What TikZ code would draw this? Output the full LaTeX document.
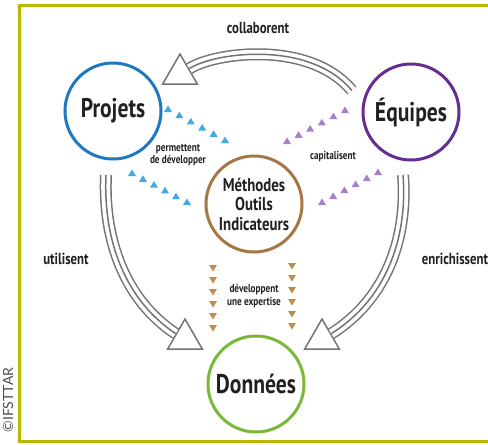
\documentclass[tikz,border=0pt]{standalone}
\usepackage{fontspec}
\setmainfont{PT Sans}[FakeStretch = 0.8]
\newfontfamily\creditfont{Lato}
\usetikzlibrary{calc, shapes.geometric}

\definecolor{projblue}{RGB}{31,120,193}
\definecolor{equippurple}{RGB}{102,45,145}
\definecolor{methbrown}{RGB}{166,118,68}
\definecolor{donngreen}{RGB}{122,184,56}
\definecolor{tipblue}{RGB}{64,170,225}
\definecolor{tippurple}{RGB}{165,130,200}
\definecolor{tipbrown}{RGB}{192,140,78}
\definecolor{framecol}{RGB}{185,183,0}
\definecolor{linegray}{RGB}{115,115,115}
\definecolor{inkgray}{RGB}{35,31,32}

\begin{document}
\begin{tikzpicture}[x = 1pt, y = -1pt,
	bubble/.style = {circle, line width = 3pt, minimum size = 96pt, inner sep = 0pt,
		text = inkgray, font = \fontsize{27}{30}\selectfont\bfseries},
	verb/.style = {text = inkgray, font = \fontsize{16}{18}\selectfont\bfseries},
	smallverb/.style = {text = inkgray, align = center, inner sep = 0pt,
		font = \fontsize{11.5}{12.5}\selectfont\bfseries},
	opentri/.style = {regular polygon, regular polygon sides = 3, minimum size = 40pt,
		inner sep = 0pt, draw = linegray, line width = 1.5pt},
	triple/.style = {draw = linegray, line width = 12pt,
		postaction = {draw = white, line width = 9pt},
		postaction = {draw = linegray, line width = 1.5pt}},
	uptri/.pic = {\fill (0, -3.5) -- (4, 3) -- (-4, 3) -- cycle;},
	downtri/.pic = {\fill (0, 3.5) -- (4, -3) -- (-4, -3) -- cycle;}]

	\useasboundingbox (0, 0) rectangle (488, 445);

	% Frame and credit

	\draw [framecol, line width = 3pt] (19, 5) rectangle (500, 441);
	\node [rotate = 90, text = inkgray!80, font = \creditfont\fontsize{14}{14}\selectfont]
		(credit) at (8, 400) {©IFSTTAR};

	% Circles

	\node [bubble, draw = projblue] (projets) at (113, 111) {Projets};
	\node [bubble, draw = equippurple] (equipes) at (411, 112) {Équipes};
	\node [bubble, draw = methbrown, align = center,
		font = \fontsize{18.5}{19.5}\selectfont\bfseries] (methodes) at (254, 204)
		{Méthodes\\Outils\\Indicateurs};
	\node [bubble, draw = donngreen] (donnees) at (256, 384) {Données};

	% Open triangles at the ends of the links

	\node [opentri] (ttop) at (180, 74) {};
	\node [opentri] (tleft) at (185, 339) {};
	\node [opentri] (tright) at (322, 339) {};

	% Triple links

	\draw [triple] ($(ttop.corner 1)!0.5!(ttop.corner 3)$)
		.. controls (215, 52) and (310, 40) .. ($(equipes) + (200:63)$);
	\draw [triple] ($(projets) + (-7, 64)$)
		.. controls (103, 240) and (125, 300) .. ($(tleft.corner 1)!0.5!(tleft.corner 2)$);
	\draw [triple] ($(equipes) + (-8, 63)$)
		.. controls (408, 240) and (385, 300) .. ($(tright.corner 1)!0.5!(tright.corner 3)$);

	% Rows of small markers

	\foreach \i in {0,...,5} {
		\pic [tipblue] at ({168 + 11.4 * \i}, {109 + 6.2 * \i}) {uptri};
		\pic [tipblue] at ({132 + 11 * \i}, {173 + 5.8 * \i}) {uptri};
		\pic [tippurple] at ({287 + 11.6 * \i}, {141 - 6.2 * \i}) {uptri};
		\pic [tippurple] at ({322 + 11.2 * \i}, {202 - 6 * \i}) {uptri};
		\pic [tipbrown] at (213, {268 + 12 * \i}) {downtri};
		\pic [tipbrown] at (292, {266 + 12 * \i}) {downtri};
	}

	% Labels

	\node [verb] (collab) at (258, 28) {collaborent};
	\node [verb] (utilise) at (66, 259) {utilisent};
	\node [verb] (enrich) at (455, 259) {enrichissent};
	\node [smallverb] (permet) at (178, 155) {permettent\\de développer};
	\node [smallverb] (capital) at (333, 157) {capitalisent};
	\node [smallverb] (devel) at (254, 296) {développent\\une expertise};

\end{tikzpicture}
\end{document}
